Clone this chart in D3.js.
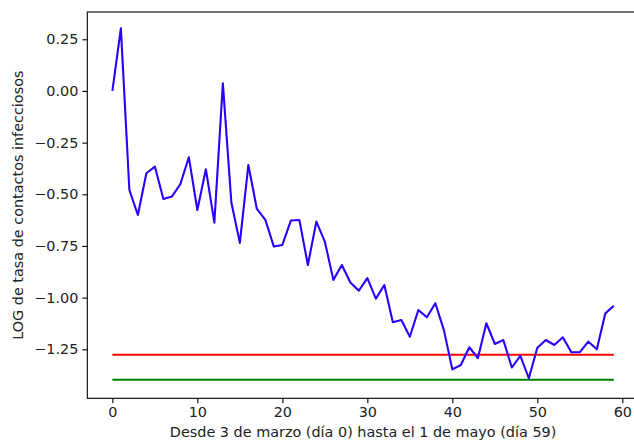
<!DOCTYPE html>
<html>
<head>
<meta charset="utf-8">
<script src="https://cdn.jsdelivr.net/npm/d3@7"></script>
<style>
  body { margin: 0; background: #fff; }
  svg { display: block; }
  text { font-family: "DejaVu Sans", sans-serif; fill: #222; }
</style>
</head>
<body>
<svg width="634" height="442"></svg>
<script>
// log rate of infectious contacts, day 0 (3 March) .. day 59 (1 May)
const logRate = [
  0.000, 0.303, -0.479, -0.600, -0.398, -0.366, -0.523, -0.511, -0.450, -0.321,
  -0.576, -0.379, -0.637, 0.037, -0.540, -0.735, -0.358, -0.571, -0.624, -0.753,
  -0.745, -0.627, -0.624, -0.842, -0.632, -0.729, -0.914, -0.842, -0.927, -0.966,
  -0.906, -1.005, -0.939, -1.119, -1.108, -1.189, -1.060, -1.095, -1.027, -1.156,
  -1.347, -1.326, -1.240, -1.293, -1.124, -1.224, -1.205, -1.338, -1.282, -1.390,
  -1.242, -1.205, -1.229, -1.192, -1.264, -1.264, -1.213, -1.250, -1.076, -1.039
];
const days = logRate.map((d, i) => i);
const redLevel = -1.276;
const greenLevel = -1.397;
const xTicks = [0, 10, 20, 30, 40, 50, 60];
const yTicks = [0.25, 0.00, -0.25, -0.50, -0.75, -1.00, -1.25];

const svg = d3.select("svg");
const plotL = 87.3, plotR = 638.9, plotT = 12, plotB = 398.3;
const fontPx = "14.4px";

const x = d3.scaleLinear().domain([-2.95, 61.95]).range([plotL, plotR]);
const y = d3.scaleLinear().domain([-1.487, 0.382]).range([plotB, plotT]);

// axes
const fmtY = d => d3.format(".2f")(d).replace("-", "\u2212");

svg.append("g")
    .attr("transform", `translate(0,${plotB})`)
    .call(d3.axisBottom(x).tickValues(xTicks).tickSize(4.9).tickPadding(4))
    .call(g => g.select(".domain").remove())
    .call(g => g.selectAll("text").style("font-size", fontPx).attr("font-family", "DejaVu Sans"));

svg.append("g")
    .attr("transform", `translate(${plotL},0)`)
    .call(d3.axisLeft(y).tickValues(yTicks).tickFormat(fmtY).tickSize(4.9).tickPadding(4))
    .call(g => g.select(".domain").remove())
    .call(g => g.selectAll("text").style("font-size", fontPx).attr("font-family", "DejaVu Sans"));

svg.selectAll(".tick line").attr("stroke", "#000").attr("stroke-width", 1.1);

// horizontal reference lines
const flat = d3.line().x(d => x(d[0])).y(d => y(d[1]));
svg.append("path")
    .attr("d", flat([[days[0], redLevel], [days[days.length - 1], redLevel]]))
    .attr("stroke", "#ff0000").attr("stroke-width", 2.1).attr("fill", "none");
svg.append("path")
    .attr("d", flat([[days[0], greenLevel], [days[days.length - 1], greenLevel]]))
    .attr("stroke", "#008000").attr("stroke-width", 2.1).attr("fill", "none");

// main series
const line = d3.line().x((d, i) => x(days[i])).y(d => y(d));
svg.append("path")
    .datum(logRate)
    .attr("d", line)
    .attr("stroke", "#2a00ff")
    .attr("stroke-width", 2.1)
    .attr("stroke-linejoin", "round")
    .attr("fill", "none");

// frame
svg.append("rect")
    .attr("x", plotL).attr("y", plotT)
    .attr("width", plotR - plotL).attr("height", plotB - plotT)
    .attr("fill", "none").attr("stroke", "#000").attr("stroke-width", 1.1);

// labels
svg.append("text")
    .attr("x", (plotL + plotR) / 2).attr("y", 437)
    .attr("text-anchor", "middle")
    .style("font-size", fontPx)
    .text("Desde 3 de marzo (día 0) hasta el 1 de mayo (día 59)");

svg.append("text")
    .attr("transform", `translate(23,${(plotT + plotB) / 2}) rotate(-90)`)
    .attr("text-anchor", "middle")
    .style("font-size", fontPx)
    .text("LOG de tasa de contactos infecciosos");
</script>
</body>
</html>
